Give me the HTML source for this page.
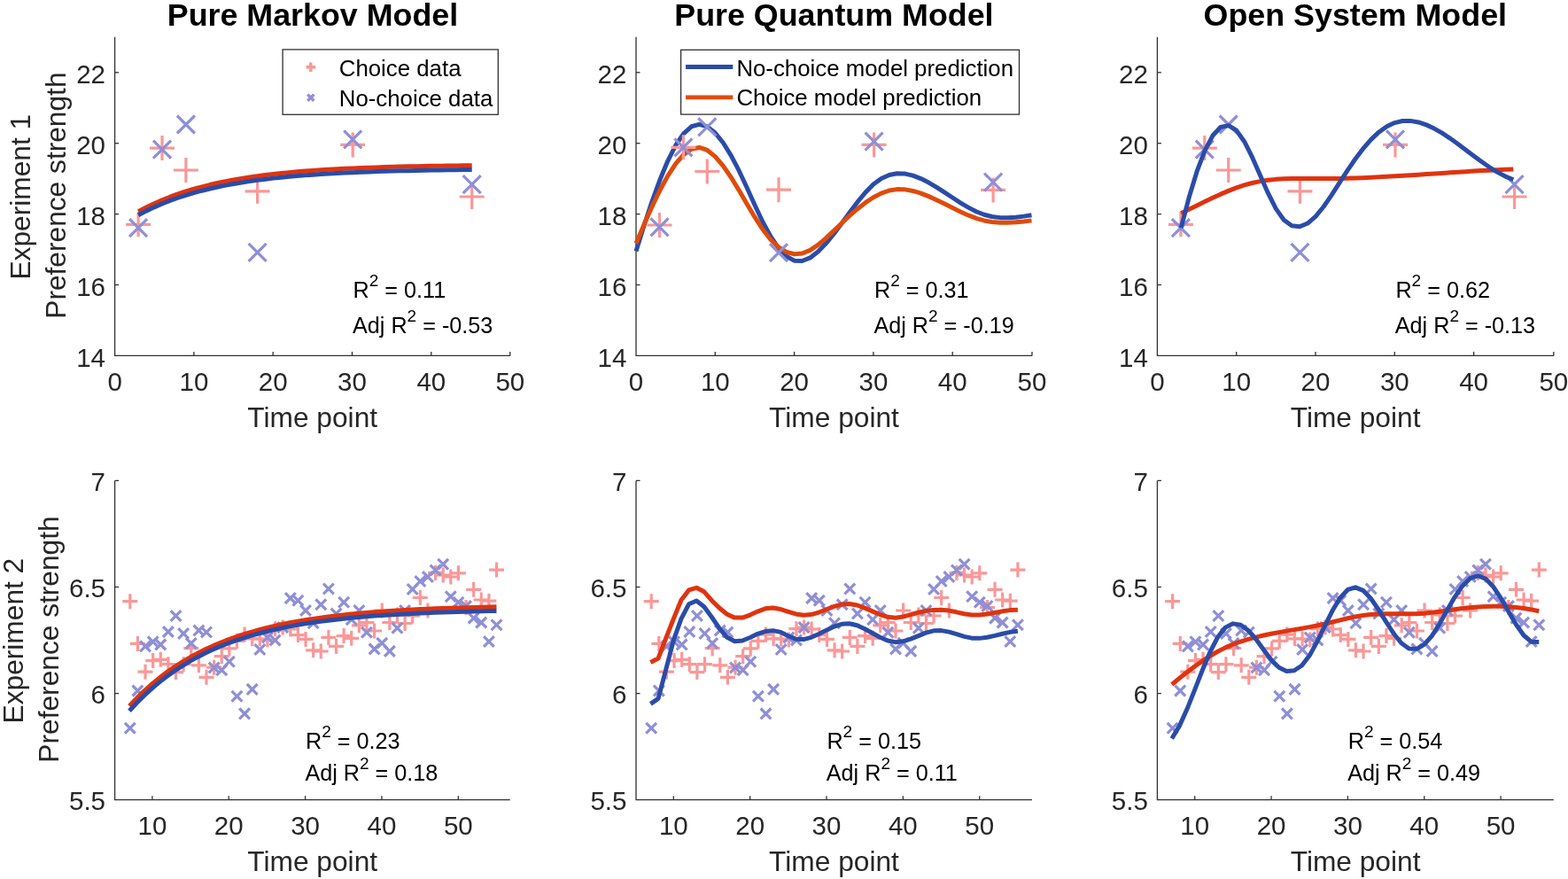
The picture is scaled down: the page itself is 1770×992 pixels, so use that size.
<!DOCTYPE html>
<html><head><meta charset="utf-8"><title>Model fits</title><style>html,body{margin:0;padding:0;background:#fff;}svg{display:block;}</style></head><body>
<svg width="1770" height="992" viewBox="0 0 1770 992" font-family='"Liberation Sans", Arial, Helvetica, sans-serif' fill="#000">
<rect width="1770" height="992" fill="#fff"/>
<text x="353.00" y="29.00" font-size="35.85" text-anchor="middle" font-weight="bold">Pure Markov Model</text>
<text x="941.40" y="29.00" font-size="35.85" text-anchor="middle" font-weight="bold">Pure Quantum Model</text>
<text x="1529.80" y="29.00" font-size="35.85" text-anchor="middle" font-weight="bold">Open System Model</text>
<text transform="translate(33.90 222.20) rotate(-90)" x="0" y="0" font-size="31.70" text-anchor="middle" fill="#262626">Experiment 1</text>
<text transform="translate(74.10 220.60) rotate(-90)" x="0" y="0" font-size="31.70" text-anchor="middle" fill="#262626">Preference strength</text>
<text transform="translate(26.20 723.10) rotate(-90)" x="0" y="0" font-size="31.70" text-anchor="middle" fill="#262626">Experiment 2</text>
<text transform="translate(66.20 721.50) rotate(-90)" x="0" y="0" font-size="31.70" text-anchor="middle" fill="#262626">Preference strength</text>
<path d="M129.60 41.85V401.40H575.80" stroke="#303030" stroke-width="1.3" fill="none"/>
<text x="119.00" y="414.00" font-size="29.50" text-anchor="end" fill="#262626">14</text>
<path d="M129.60 321.50h4.5" stroke="#303030" stroke-width="1.3"/>
<text x="119.00" y="334.10" font-size="29.50" text-anchor="end" fill="#262626">16</text>
<path d="M129.60 241.60h4.5" stroke="#303030" stroke-width="1.3"/>
<text x="119.00" y="254.20" font-size="29.50" text-anchor="end" fill="#262626">18</text>
<path d="M129.60 161.70h4.5" stroke="#303030" stroke-width="1.3"/>
<text x="119.00" y="174.30" font-size="29.50" text-anchor="end" fill="#262626">20</text>
<path d="M129.60 81.80h4.5" stroke="#303030" stroke-width="1.3"/>
<text x="119.00" y="94.40" font-size="29.50" text-anchor="end" fill="#262626">22</text>
<text x="129.60" y="441.30" font-size="29.50" text-anchor="middle" fill="#262626">0</text>
<path d="M218.90 401.40v-4.5" stroke="#303030" stroke-width="1.3"/>
<text x="218.90" y="441.30" font-size="29.50" text-anchor="middle" fill="#262626">10</text>
<path d="M308.20 401.40v-4.5" stroke="#303030" stroke-width="1.3"/>
<text x="308.20" y="441.30" font-size="29.50" text-anchor="middle" fill="#262626">20</text>
<path d="M397.50 401.40v-4.5" stroke="#303030" stroke-width="1.3"/>
<text x="397.50" y="441.30" font-size="29.50" text-anchor="middle" fill="#262626">30</text>
<path d="M486.80 401.40v-4.5" stroke="#303030" stroke-width="1.3"/>
<text x="486.80" y="441.30" font-size="29.50" text-anchor="middle" fill="#262626">40</text>
<path d="M575.80 401.40v-4.5" stroke="#303030" stroke-width="1.3"/>
<text x="575.80" y="441.30" font-size="29.50" text-anchor="middle" fill="#262626">50</text>
<text x="352.70" y="481.70" font-size="31.70" text-anchor="middle" fill="#262626">Time point</text>
<g fill="none" stroke-linecap="butt">
<path d="M142.10 253.30H170.10M156.10 239.30V267.30" stroke="#fa9898" stroke-width="3.20"/>
<path d="M169.00 167.10H197.00M183.00 153.10V181.10" stroke="#fa9898" stroke-width="3.20"/>
<path d="M195.90 192.00H223.90M209.90 178.00V206.00" stroke="#fa9898" stroke-width="3.20"/>
<path d="M276.61 215.80H304.61M290.61 201.80V229.80" stroke="#fa9898" stroke-width="3.20"/>
<path d="M384.21 163.40H412.21M398.21 149.40V177.40" stroke="#fa9898" stroke-width="3.20"/>
<path d="M518.72 222.00H546.72M532.72 208.00V236.00" stroke="#fa9898" stroke-width="3.20"/>
<path d="M146.10 247.10L166.10 267.10M146.10 267.10L166.10 247.10" stroke="#8f8fd6" stroke-width="3.20"/>
<path d="M173.00 158.60L193.00 178.60M173.00 178.60L193.00 158.60" stroke="#8f8fd6" stroke-width="3.20"/>
<path d="M199.90 130.50L219.90 150.50M199.90 150.50L219.90 130.50" stroke="#8f8fd6" stroke-width="3.20"/>
<path d="M280.61 274.90L300.61 294.90M280.61 294.90L300.61 274.90" stroke="#8f8fd6" stroke-width="3.20"/>
<path d="M388.21 147.40L408.21 167.40M388.21 167.40L408.21 147.40" stroke="#8f8fd6" stroke-width="3.20"/>
<path d="M522.72 198.10L542.72 218.10M522.72 218.10L542.72 198.10" stroke="#8f8fd6" stroke-width="3.20"/>
</g>
<path d="M156.10 238.80 L165.07 234.06 L174.03 229.73 L183.00 225.80 L191.97 222.21 L200.94 218.95 L209.90 215.97 L218.87 213.26 L227.84 210.80 L236.80 208.55 L245.77 206.51 L254.74 204.65 L263.70 202.95 L272.67 201.41 L281.64 200.00 L290.61 198.72 L299.57 197.55 L308.54 196.49 L317.51 195.53 L326.47 194.64 L335.44 193.84 L344.41 193.11 L353.38 192.45 L362.34 191.84 L371.31 191.29 L380.28 190.79 L389.24 190.33 L398.21 189.91 L407.18 189.54 L416.14 189.19 L425.11 188.88 L434.08 188.59 L443.05 188.33 L452.01 188.09 L460.98 187.87 L469.95 187.68 L478.91 187.50 L487.88 187.33 L496.85 187.19 L505.81 187.05 L514.78 186.93 L523.75 186.81 L532.72 186.71" stroke="#e0330f" stroke-width="5.00" fill="none" stroke-linejoin="round" stroke-linecap="butt"/>
<path d="M156.10 242.80 L165.07 238.12 L174.03 233.86 L183.00 229.99 L191.97 226.45 L200.94 223.24 L209.90 220.31 L218.87 217.64 L227.84 215.21 L236.80 213.00 L245.77 210.99 L254.74 209.16 L263.70 207.49 L272.67 205.96 L281.64 204.58 L290.61 203.32 L299.57 202.17 L308.54 201.12 L317.51 200.17 L326.47 199.30 L335.44 198.51 L344.41 197.79 L353.38 197.14 L362.34 196.54 L371.31 196.00 L380.28 195.51 L389.24 195.05 L398.21 194.64 L407.18 194.27 L416.14 193.93 L425.11 193.62 L434.08 193.34 L443.05 193.08 L452.01 192.85 L460.98 192.64 L469.95 192.44 L478.91 192.26 L487.88 192.10 L496.85 191.96 L505.81 191.82 L514.78 191.70 L523.75 191.59 L532.72 191.49" stroke="#2a4ca8" stroke-width="5.00" fill="none" stroke-linejoin="round" stroke-linecap="butt"/>
<path d="M718.00 41.85V401.40H1165.00" stroke="#303030" stroke-width="1.3" fill="none"/>
<text x="707.40" y="414.00" font-size="29.50" text-anchor="end" fill="#262626">14</text>
<path d="M718.00 321.50h4.5" stroke="#303030" stroke-width="1.3"/>
<text x="707.40" y="334.10" font-size="29.50" text-anchor="end" fill="#262626">16</text>
<path d="M718.00 241.60h4.5" stroke="#303030" stroke-width="1.3"/>
<text x="707.40" y="254.20" font-size="29.50" text-anchor="end" fill="#262626">18</text>
<path d="M718.00 161.70h4.5" stroke="#303030" stroke-width="1.3"/>
<text x="707.40" y="174.30" font-size="29.50" text-anchor="end" fill="#262626">20</text>
<path d="M718.00 81.80h4.5" stroke="#303030" stroke-width="1.3"/>
<text x="707.40" y="94.40" font-size="29.50" text-anchor="end" fill="#262626">22</text>
<text x="718.00" y="441.30" font-size="29.50" text-anchor="middle" fill="#262626">0</text>
<path d="M807.30 401.40v-4.5" stroke="#303030" stroke-width="1.3"/>
<text x="807.30" y="441.30" font-size="29.50" text-anchor="middle" fill="#262626">10</text>
<path d="M896.60 401.40v-4.5" stroke="#303030" stroke-width="1.3"/>
<text x="896.60" y="441.30" font-size="29.50" text-anchor="middle" fill="#262626">20</text>
<path d="M985.90 401.40v-4.5" stroke="#303030" stroke-width="1.3"/>
<text x="985.90" y="441.30" font-size="29.50" text-anchor="middle" fill="#262626">30</text>
<path d="M1075.20 401.40v-4.5" stroke="#303030" stroke-width="1.3"/>
<text x="1075.20" y="441.30" font-size="29.50" text-anchor="middle" fill="#262626">40</text>
<path d="M1165.00 401.40v-4.5" stroke="#303030" stroke-width="1.3"/>
<text x="1165.00" y="441.30" font-size="29.50" text-anchor="middle" fill="#262626">50</text>
<text x="941.50" y="481.70" font-size="31.70" text-anchor="middle" fill="#262626">Time point</text>
<path d="M718.00 283.40 L726.93 254.82 L735.86 227.89 L744.79 203.32 L753.72 181.81 L762.65 164.08 L771.58 150.83 L780.51 142.78 L789.44 140.29 L798.37 142.89 L807.30 150.00 L816.23 161.02 L825.16 175.36 L834.09 192.44 L843.02 211.53 L851.95 231.29 L860.88 250.20 L869.81 266.73 L878.74 279.91 L887.67 289.22 L896.60 294.16 L905.53 294.51 L914.46 290.89 L923.39 284.07 L932.32 274.83 L941.25 263.90 L950.18 251.98 L959.11 239.75 L968.04 227.91 L976.97 217.12 L985.90 208.09 L994.83 201.47 L1003.76 197.46 L1012.69 195.78 L1021.62 196.12 L1030.55 198.16 L1039.48 201.59 L1048.41 206.10 L1057.34 211.38 L1066.27 217.13 L1075.20 223.04 L1084.13 228.81 L1093.06 234.14 L1101.99 238.73 L1110.92 242.27 L1119.85 244.54 L1128.78 245.64 L1137.71 245.79 L1146.64 245.21 L1155.57 244.12 L1164.50 242.72" stroke="#2a4ca8" stroke-width="5.00" fill="none" stroke-linejoin="round" stroke-linecap="butt"/>
<path d="M718.00 274.77 L726.93 253.68 L735.86 233.55 L744.79 214.99 L753.72 198.58 L762.65 184.93 L771.58 174.63 L780.51 168.27 L789.44 166.45 L798.37 169.45 L807.30 176.60 L816.23 187.07 L825.16 200.01 L834.09 214.58 L843.02 229.90 L851.95 244.98 L860.88 258.75 L869.81 270.20 L878.74 278.76 L887.67 284.31 L896.60 286.77 L905.53 286.04 L914.46 282.38 L923.39 276.43 L932.32 268.88 L941.25 260.41 L950.18 251.77 L959.11 243.44 L968.04 235.66 L976.97 228.69 L985.90 222.75 L994.83 218.11 L1003.76 214.99 L1012.69 213.61 L1021.62 213.85 L1030.55 215.44 L1039.48 218.12 L1048.41 221.62 L1057.34 225.68 L1066.27 230.07 L1075.20 234.55 L1084.13 238.91 L1093.06 242.91 L1101.99 246.32 L1110.92 248.93 L1119.85 250.56 L1128.78 251.30 L1137.71 251.33 L1146.64 250.82 L1155.57 249.94 L1164.50 248.86" stroke="#df4b0a" stroke-width="5.00" fill="none" stroke-linejoin="round" stroke-linecap="butt"/>
<g fill="none" stroke-linecap="butt">
<path d="M730.50 254.00H758.50M744.50 240.00V268.00" stroke="#fa9898" stroke-width="3.20"/>
<path d="M757.40 166.30H785.40M771.40 152.30V180.30" stroke="#fa9898" stroke-width="3.20"/>
<path d="M784.30 193.50H812.30M798.30 179.50V207.50" stroke="#fa9898" stroke-width="3.20"/>
<path d="M865.01 214.20H893.01M879.01 200.20V228.20" stroke="#fa9898" stroke-width="3.20"/>
<path d="M972.61 163.40H1000.61M986.61 149.40V177.40" stroke="#fa9898" stroke-width="3.20"/>
<path d="M1107.12 214.40H1135.12M1121.12 200.40V228.40" stroke="#fa9898" stroke-width="3.20"/>
<path d="M734.50 246.30L754.50 266.30M734.50 266.30L754.50 246.30" stroke="#8f8fd6" stroke-width="3.20"/>
<path d="M761.40 156.30L781.40 176.30M761.40 176.30L781.40 156.30" stroke="#8f8fd6" stroke-width="3.20"/>
<path d="M788.30 133.30L808.30 153.30M788.30 153.30L808.30 133.30" stroke="#8f8fd6" stroke-width="3.20"/>
<path d="M869.01 275.20L889.01 295.20M869.01 295.20L889.01 275.20" stroke="#8f8fd6" stroke-width="3.20"/>
<path d="M976.61 149.70L996.61 169.70M976.61 169.70L996.61 149.70" stroke="#8f8fd6" stroke-width="3.20"/>
<path d="M1111.12 195.60L1131.12 215.60M1111.12 215.60L1131.12 195.60" stroke="#8f8fd6" stroke-width="3.20"/>
</g>
<path d="M1306.40 41.85V401.40H1753.80" stroke="#303030" stroke-width="1.3" fill="none"/>
<text x="1295.80" y="414.00" font-size="29.50" text-anchor="end" fill="#262626">14</text>
<path d="M1306.40 321.50h4.5" stroke="#303030" stroke-width="1.3"/>
<text x="1295.80" y="334.10" font-size="29.50" text-anchor="end" fill="#262626">16</text>
<path d="M1306.40 241.60h4.5" stroke="#303030" stroke-width="1.3"/>
<text x="1295.80" y="254.20" font-size="29.50" text-anchor="end" fill="#262626">18</text>
<path d="M1306.40 161.70h4.5" stroke="#303030" stroke-width="1.3"/>
<text x="1295.80" y="174.30" font-size="29.50" text-anchor="end" fill="#262626">20</text>
<path d="M1306.40 81.80h4.5" stroke="#303030" stroke-width="1.3"/>
<text x="1295.80" y="94.40" font-size="29.50" text-anchor="end" fill="#262626">22</text>
<text x="1306.40" y="441.30" font-size="29.50" text-anchor="middle" fill="#262626">0</text>
<path d="M1395.70 401.40v-4.5" stroke="#303030" stroke-width="1.3"/>
<text x="1395.70" y="441.30" font-size="29.50" text-anchor="middle" fill="#262626">10</text>
<path d="M1485.00 401.40v-4.5" stroke="#303030" stroke-width="1.3"/>
<text x="1485.00" y="441.30" font-size="29.50" text-anchor="middle" fill="#262626">20</text>
<path d="M1574.30 401.40v-4.5" stroke="#303030" stroke-width="1.3"/>
<text x="1574.30" y="441.30" font-size="29.50" text-anchor="middle" fill="#262626">30</text>
<path d="M1663.60 401.40v-4.5" stroke="#303030" stroke-width="1.3"/>
<text x="1663.60" y="441.30" font-size="29.50" text-anchor="middle" fill="#262626">40</text>
<path d="M1753.80 401.40v-4.5" stroke="#303030" stroke-width="1.3"/>
<text x="1753.80" y="441.30" font-size="29.50" text-anchor="middle" fill="#262626">50</text>
<text x="1530.10" y="481.70" font-size="31.70" text-anchor="middle" fill="#262626">Time point</text>
<g fill="none" stroke-linecap="butt">
<path d="M1318.90 253.30H1346.90M1332.90 239.30V267.30" stroke="#fa9898" stroke-width="3.20"/>
<path d="M1345.80 167.10H1373.80M1359.80 153.10V181.10" stroke="#fa9898" stroke-width="3.20"/>
<path d="M1372.70 192.00H1400.70M1386.70 178.00V206.00" stroke="#fa9898" stroke-width="3.20"/>
<path d="M1453.41 215.80H1481.41M1467.41 201.80V229.80" stroke="#fa9898" stroke-width="3.20"/>
<path d="M1561.01 163.40H1589.01M1575.01 149.40V177.40" stroke="#fa9898" stroke-width="3.20"/>
<path d="M1695.52 222.00H1723.52M1709.52 208.00V236.00" stroke="#fa9898" stroke-width="3.20"/>
<path d="M1322.90 247.10L1342.90 267.10M1322.90 267.10L1342.90 247.10" stroke="#8f8fd6" stroke-width="3.20"/>
<path d="M1349.80 158.60L1369.80 178.60M1349.80 178.60L1369.80 158.60" stroke="#8f8fd6" stroke-width="3.20"/>
<path d="M1376.70 130.50L1396.70 150.50M1376.70 150.50L1396.70 130.50" stroke="#8f8fd6" stroke-width="3.20"/>
<path d="M1457.41 274.90L1477.41 294.90M1457.41 294.90L1477.41 274.90" stroke="#8f8fd6" stroke-width="3.20"/>
<path d="M1565.01 147.40L1585.01 167.40M1565.01 167.40L1585.01 147.40" stroke="#8f8fd6" stroke-width="3.20"/>
<path d="M1699.52 198.10L1719.52 218.10M1699.52 218.10L1719.52 198.10" stroke="#8f8fd6" stroke-width="3.20"/>
</g>
<path d="M1333.19 240.64 L1342.12 236.30 L1351.05 231.90 L1359.98 227.51 L1368.91 223.23 L1377.84 219.15 L1386.77 215.35 L1395.70 211.91 L1404.63 208.93 L1413.56 206.50 L1422.49 204.64 L1431.42 203.29 L1440.35 202.37 L1449.28 201.81 L1458.21 201.51 L1467.14 201.42 L1476.07 201.45 L1485.00 201.53 L1493.93 201.57 L1502.86 201.53 L1511.79 201.41 L1520.72 201.22 L1529.65 200.96 L1538.58 200.64 L1547.51 200.27 L1556.44 199.84 L1565.37 199.37 L1574.30 198.86 L1583.23 198.33 L1592.16 197.77 L1601.09 197.18 L1610.02 196.59 L1618.95 195.99 L1627.88 195.39 L1636.81 194.80 L1645.74 194.22 L1654.67 193.65 L1663.60 193.11 L1672.53 192.61 L1681.46 192.13 L1690.39 191.70 L1699.32 191.32 L1708.25 191.00" stroke="#e0330f" stroke-width="5.00" fill="none" stroke-linejoin="round" stroke-linecap="butt"/>
<path d="M1333.19 257.25 L1342.12 223.02 L1351.05 193.66 L1359.98 170.05 L1368.91 153.08 L1377.84 143.53 L1386.77 141.58 L1395.70 147.11 L1404.63 159.73 L1413.56 177.45 L1422.49 197.72 L1431.42 217.97 L1440.35 235.65 L1449.28 248.24 L1458.21 254.73 L1467.14 255.77 L1476.07 252.04 L1485.00 244.30 L1493.93 233.48 L1502.86 220.60 L1511.79 206.70 L1520.72 192.80 L1529.65 179.75 L1538.58 167.95 L1547.51 157.65 L1556.44 149.16 L1565.37 142.73 L1574.30 138.57 L1583.23 136.54 L1592.16 136.40 L1601.09 137.92 L1610.02 140.88 L1618.95 145.05 L1627.88 150.20 L1636.81 156.09 L1645.74 162.50 L1654.67 169.21 L1663.60 175.97 L1672.53 182.57 L1681.46 188.77 L1690.39 194.35 L1699.32 199.07 L1708.25 202.70" stroke="#2a4ca8" stroke-width="5.00" fill="none" stroke-linejoin="round" stroke-linecap="butt"/>
<path d="M129.60 542.40V902.70H575.80" stroke="#303030" stroke-width="1.3" fill="none"/>
<text x="119.00" y="914.10" font-size="29.50" text-anchor="end" fill="#262626">5.5</text>
<path d="M129.60 782.60h4.5" stroke="#303030" stroke-width="1.3"/>
<text x="119.00" y="794.00" font-size="29.50" text-anchor="end" fill="#262626">6</text>
<path d="M129.60 662.50h4.5" stroke="#303030" stroke-width="1.3"/>
<text x="119.00" y="673.90" font-size="29.50" text-anchor="end" fill="#262626">6.5</text>
<path d="M129.60 542.40h4.5" stroke="#303030" stroke-width="1.3"/>
<text x="119.00" y="553.80" font-size="29.50" text-anchor="end" fill="#262626">7</text>
<path d="M171.90 902.70v-4.5" stroke="#303030" stroke-width="1.3"/>
<text x="171.90" y="942.30" font-size="29.50" text-anchor="middle" fill="#262626">10</text>
<path d="M258.25 902.70v-4.5" stroke="#303030" stroke-width="1.3"/>
<text x="258.25" y="942.30" font-size="29.50" text-anchor="middle" fill="#262626">20</text>
<path d="M344.60 902.70v-4.5" stroke="#303030" stroke-width="1.3"/>
<text x="344.60" y="942.30" font-size="29.50" text-anchor="middle" fill="#262626">30</text>
<path d="M430.95 902.70v-4.5" stroke="#303030" stroke-width="1.3"/>
<text x="430.95" y="942.30" font-size="29.50" text-anchor="middle" fill="#262626">40</text>
<path d="M517.30 902.70v-4.5" stroke="#303030" stroke-width="1.3"/>
<text x="517.30" y="942.30" font-size="29.50" text-anchor="middle" fill="#262626">50</text>
<text x="352.70" y="982.70" font-size="31.70" text-anchor="middle" fill="#262626">Time point</text>
<g fill="none" stroke-linecap="butt">
<path d="M138.30 678.70H155.30M146.80 670.20V687.20" stroke="#fa9898" stroke-width="3.20"/>
<path d="M146.92 726.40H163.92M155.42 717.90V734.90" stroke="#fa9898" stroke-width="3.20"/>
<path d="M155.54 758.20H172.54M164.04 749.70V766.70" stroke="#fa9898" stroke-width="3.20"/>
<path d="M164.16 745.60H181.16M172.66 737.10V754.10" stroke="#fa9898" stroke-width="3.20"/>
<path d="M172.78 744.30H189.78M181.28 735.80V752.80" stroke="#fa9898" stroke-width="3.20"/>
<path d="M181.40 749.70H198.40M189.90 741.20V758.20" stroke="#fa9898" stroke-width="3.20"/>
<path d="M190.01 758.60H207.01M198.51 750.10V767.10" stroke="#fa9898" stroke-width="3.20"/>
<path d="M198.63 749.70H215.63M207.13 741.20V758.20" stroke="#fa9898" stroke-width="3.20"/>
<path d="M207.25 731.70H224.25M215.75 723.20V740.20" stroke="#fa9898" stroke-width="3.20"/>
<path d="M215.87 750.80H232.87M224.37 742.30V759.30" stroke="#fa9898" stroke-width="3.20"/>
<path d="M224.49 764.30H241.49M232.99 755.80V772.80" stroke="#fa9898" stroke-width="3.20"/>
<path d="M233.11 753.20H250.11M241.61 744.70V761.70" stroke="#fa9898" stroke-width="3.20"/>
<path d="M241.73 740.70H258.73M250.23 732.20V749.20" stroke="#fa9898" stroke-width="3.20"/>
<path d="M250.35 731.90H267.35M258.85 723.40V740.40" stroke="#fa9898" stroke-width="3.20"/>
<path d="M258.97 723.40H275.97M267.47 714.90V731.90" stroke="#fa9898" stroke-width="3.20"/>
<path d="M267.59 716.10H284.59M276.09 707.60V724.60" stroke="#fa9898" stroke-width="3.20"/>
<path d="M276.20 720.80H293.20M284.70 712.30V729.30" stroke="#fa9898" stroke-width="3.20"/>
<path d="M284.82 721.00H301.82M293.32 712.50V729.50" stroke="#fa9898" stroke-width="3.20"/>
<path d="M293.44 722.00H310.44M301.94 713.50V730.50" stroke="#fa9898" stroke-width="3.20"/>
<path d="M302.06 709.70H319.06M310.56 701.20V718.20" stroke="#fa9898" stroke-width="3.20"/>
<path d="M310.68 708.00H327.68M319.18 699.50V716.50" stroke="#fa9898" stroke-width="3.20"/>
<path d="M319.30 710.00H336.30M327.80 701.50V718.50" stroke="#fa9898" stroke-width="3.20"/>
<path d="M327.92 716.60H344.92M336.42 708.10V725.10" stroke="#fa9898" stroke-width="3.20"/>
<path d="M336.54 721.40H353.54M345.04 712.90V729.90" stroke="#fa9898" stroke-width="3.20"/>
<path d="M345.16 733.80H362.16M353.66 725.30V742.30" stroke="#fa9898" stroke-width="3.20"/>
<path d="M353.77 735.00H370.77M362.27 726.50V743.50" stroke="#fa9898" stroke-width="3.20"/>
<path d="M362.39 719.40H379.39M370.89 710.90V727.90" stroke="#fa9898" stroke-width="3.20"/>
<path d="M371.01 729.40H388.01M379.51 720.90V737.90" stroke="#fa9898" stroke-width="3.20"/>
<path d="M379.63 717.60H396.63M388.13 709.10V726.10" stroke="#fa9898" stroke-width="3.20"/>
<path d="M388.25 720.30H405.25M396.75 711.80V728.80" stroke="#fa9898" stroke-width="3.20"/>
<path d="M396.87 705.80H413.87M405.37 697.30V714.30" stroke="#fa9898" stroke-width="3.20"/>
<path d="M405.49 702.60H422.49M413.99 694.10V711.10" stroke="#fa9898" stroke-width="3.20"/>
<path d="M414.11 712.00H431.11M422.61 703.50V720.50" stroke="#fa9898" stroke-width="3.20"/>
<path d="M422.73 689.00H439.73M431.23 680.50V697.50" stroke="#fa9898" stroke-width="3.20"/>
<path d="M431.35 702.50H448.35M439.85 694.00V711.00" stroke="#fa9898" stroke-width="3.20"/>
<path d="M439.96 694.00H456.96M448.46 685.50V702.50" stroke="#fa9898" stroke-width="3.20"/>
<path d="M448.58 703.50H465.58M457.08 695.00V712.00" stroke="#fa9898" stroke-width="3.20"/>
<path d="M457.20 695.00H474.20M465.70 686.50V703.50" stroke="#fa9898" stroke-width="3.20"/>
<path d="M465.82 674.50H482.82M474.32 666.00V683.00" stroke="#fa9898" stroke-width="3.20"/>
<path d="M474.44 689.00H491.44M482.94 680.50V697.50" stroke="#fa9898" stroke-width="3.20"/>
<path d="M483.06 646.40H500.06M491.56 637.90V654.90" stroke="#fa9898" stroke-width="3.20"/>
<path d="M491.68 649.00H508.68M500.18 640.50V657.50" stroke="#fa9898" stroke-width="3.20"/>
<path d="M500.30 651.00H517.30M508.80 642.50V659.50" stroke="#fa9898" stroke-width="3.20"/>
<path d="M508.92 646.80H525.92M517.42 638.30V655.30" stroke="#fa9898" stroke-width="3.20"/>
<path d="M517.54 685.50H534.54M526.04 677.00V694.00" stroke="#fa9898" stroke-width="3.20"/>
<path d="M526.15 665.30H543.15M534.65 656.80V673.80" stroke="#fa9898" stroke-width="3.20"/>
<path d="M534.77 677.00H551.77M543.27 668.50V685.50" stroke="#fa9898" stroke-width="3.20"/>
<path d="M543.39 678.20H560.39M551.89 669.70V686.70" stroke="#fa9898" stroke-width="3.20"/>
<path d="M552.01 643.10H569.01M560.51 634.60V651.60" stroke="#fa9898" stroke-width="3.20"/>
<path d="M140.90 815.80L152.70 827.60M140.90 827.60L152.70 815.80" stroke="#8f8fd6" stroke-width="3.20"/>
<path d="M149.52 773.70L161.32 785.50M149.52 785.50L161.32 773.70" stroke="#8f8fd6" stroke-width="3.20"/>
<path d="M158.14 723.50L169.94 735.30M158.14 735.30L169.94 723.50" stroke="#8f8fd6" stroke-width="3.20"/>
<path d="M166.76 718.40L178.56 730.20M166.76 730.20L178.56 718.40" stroke="#8f8fd6" stroke-width="3.20"/>
<path d="M175.38 721.50L187.18 733.30M175.38 733.30L187.18 721.50" stroke="#8f8fd6" stroke-width="3.20"/>
<path d="M184.00 707.10L195.80 718.90M184.00 718.90L195.80 707.10" stroke="#8f8fd6" stroke-width="3.20"/>
<path d="M192.61 689.10L204.41 700.90M192.61 700.90L204.41 689.10" stroke="#8f8fd6" stroke-width="3.20"/>
<path d="M201.23 709.10L213.03 720.90M201.23 720.90L213.03 709.10" stroke="#8f8fd6" stroke-width="3.20"/>
<path d="M209.85 720.10L221.65 731.90M209.85 731.90L221.65 720.10" stroke="#8f8fd6" stroke-width="3.20"/>
<path d="M218.47 705.60L230.27 717.40M218.47 717.40L230.27 705.60" stroke="#8f8fd6" stroke-width="3.20"/>
<path d="M227.09 707.60L238.89 719.40M227.09 719.40L238.89 707.60" stroke="#8f8fd6" stroke-width="3.20"/>
<path d="M235.71 747.60L247.51 759.40M235.71 759.40L247.51 747.60" stroke="#8f8fd6" stroke-width="3.20"/>
<path d="M244.33 750.40L256.13 762.20M244.33 762.20L256.13 750.40" stroke="#8f8fd6" stroke-width="3.20"/>
<path d="M252.95 740.80L264.75 752.60M252.95 752.60L264.75 740.80" stroke="#8f8fd6" stroke-width="3.20"/>
<path d="M261.57 779.80L273.37 791.60M261.57 791.60L273.37 779.80" stroke="#8f8fd6" stroke-width="3.20"/>
<path d="M270.19 799.50L281.99 811.30M270.19 811.30L281.99 799.50" stroke="#8f8fd6" stroke-width="3.20"/>
<path d="M278.80 772.00L290.60 783.80M278.80 783.80L290.60 772.00" stroke="#8f8fd6" stroke-width="3.20"/>
<path d="M287.42 727.10L299.22 738.90M287.42 738.90L299.22 727.10" stroke="#8f8fd6" stroke-width="3.20"/>
<path d="M296.04 713.60L307.84 725.40M296.04 725.40L307.84 713.60" stroke="#8f8fd6" stroke-width="3.20"/>
<path d="M304.66 716.60L316.46 728.40M304.66 728.40L316.46 716.60" stroke="#8f8fd6" stroke-width="3.20"/>
<path d="M313.28 702.20L325.08 714.00M313.28 714.00L325.08 702.20" stroke="#8f8fd6" stroke-width="3.20"/>
<path d="M321.90 669.20L333.70 681.00M321.90 681.00L333.70 669.20" stroke="#8f8fd6" stroke-width="3.20"/>
<path d="M330.52 671.80L342.32 683.60M330.52 683.60L342.32 671.80" stroke="#8f8fd6" stroke-width="3.20"/>
<path d="M339.14 683.10L350.94 694.90M339.14 694.90L350.94 683.10" stroke="#8f8fd6" stroke-width="3.20"/>
<path d="M347.76 697.40L359.56 709.20M347.76 709.20L359.56 697.40" stroke="#8f8fd6" stroke-width="3.20"/>
<path d="M356.38 676.30L368.17 688.10M356.38 688.10L368.17 676.30" stroke="#8f8fd6" stroke-width="3.20"/>
<path d="M364.99 658.60L376.79 670.40M364.99 670.40L376.79 658.60" stroke="#8f8fd6" stroke-width="3.20"/>
<path d="M373.61 686.60L385.41 698.40M373.61 698.40L385.41 686.60" stroke="#8f8fd6" stroke-width="3.20"/>
<path d="M382.23 673.90L394.03 685.70M382.23 685.70L394.03 673.90" stroke="#8f8fd6" stroke-width="3.20"/>
<path d="M390.85 693.40L402.65 705.20M390.85 705.20L402.65 693.40" stroke="#8f8fd6" stroke-width="3.20"/>
<path d="M399.47 683.10L411.27 694.90M399.47 694.90L411.27 683.10" stroke="#8f8fd6" stroke-width="3.20"/>
<path d="M408.09 707.90L419.89 719.70M408.09 719.70L419.89 707.90" stroke="#8f8fd6" stroke-width="3.20"/>
<path d="M416.71 726.50L428.51 738.30M416.71 738.30L428.51 726.50" stroke="#8f8fd6" stroke-width="3.20"/>
<path d="M425.33 719.90L437.13 731.70M425.33 731.70L437.13 719.90" stroke="#8f8fd6" stroke-width="3.20"/>
<path d="M433.95 729.00L445.75 740.80M433.95 740.80L445.75 729.00" stroke="#8f8fd6" stroke-width="3.20"/>
<path d="M442.56 702.90L454.36 714.70M442.56 714.70L454.36 702.90" stroke="#8f8fd6" stroke-width="3.20"/>
<path d="M451.18 683.10L462.98 694.90M451.18 694.90L462.98 683.10" stroke="#8f8fd6" stroke-width="3.20"/>
<path d="M459.80 659.10L471.60 670.90M459.80 670.90L471.60 659.10" stroke="#8f8fd6" stroke-width="3.20"/>
<path d="M468.42 650.10L480.22 661.90M468.42 661.90L480.22 650.10" stroke="#8f8fd6" stroke-width="3.20"/>
<path d="M477.04 645.10L488.84 656.90M477.04 656.90L488.84 645.10" stroke="#8f8fd6" stroke-width="3.20"/>
<path d="M485.66 637.60L497.46 649.40M485.66 649.40L497.46 637.60" stroke="#8f8fd6" stroke-width="3.20"/>
<path d="M494.28 630.90L506.08 642.70M494.28 642.70L506.08 630.90" stroke="#8f8fd6" stroke-width="3.20"/>
<path d="M502.90 667.30L514.70 679.10M502.90 679.10L514.70 667.30" stroke="#8f8fd6" stroke-width="3.20"/>
<path d="M511.52 673.80L523.32 685.60M511.52 685.60L523.32 673.80" stroke="#8f8fd6" stroke-width="3.20"/>
<path d="M520.14 678.10L531.94 689.90M520.14 689.90L531.94 678.10" stroke="#8f8fd6" stroke-width="3.20"/>
<path d="M528.75 691.70L540.55 703.50M528.75 703.50L540.55 691.70" stroke="#8f8fd6" stroke-width="3.20"/>
<path d="M537.37 696.70L549.17 708.50M537.37 708.50L549.17 696.70" stroke="#8f8fd6" stroke-width="3.20"/>
<path d="M545.99 718.10L557.79 729.90M545.99 729.90L557.79 718.10" stroke="#8f8fd6" stroke-width="3.20"/>
<path d="M554.61 699.30L566.41 711.10M554.61 711.10L566.41 699.30" stroke="#8f8fd6" stroke-width="3.20"/>
</g>
<path d="M146.00 796.65 L154.63 787.63 L163.27 779.31 L171.90 771.66 L180.53 764.61 L189.17 758.12 L197.81 752.15 L206.44 746.64 L215.07 741.57 L223.71 736.91 L232.34 732.61 L240.98 728.65 L249.62 725.01 L258.25 721.65 L266.88 718.57 L275.52 715.72 L284.15 713.10 L292.79 710.69 L301.43 708.47 L310.06 706.42 L318.69 704.54 L327.33 702.80 L335.97 701.21 L344.60 699.73 L353.24 698.38 L361.87 697.13 L370.50 695.99 L379.14 694.93 L387.77 693.95 L396.41 693.06 L405.04 692.23 L413.68 691.47 L422.31 690.77 L430.95 690.13 L439.59 689.53 L448.22 688.99 L456.86 688.48 L465.49 688.02 L474.12 687.59 L482.76 687.20 L491.39 686.84 L500.03 686.50 L508.66 686.20 L517.30 685.91 L525.93 685.65 L534.57 685.41 L543.21 685.19 L551.84 684.99 L560.48 684.80" stroke="#e0330f" stroke-width="5.00" fill="none" stroke-linejoin="round" stroke-linecap="butt"/>
<path d="M146.00 802.32 L154.63 793.02 L163.27 784.47 L171.90 776.61 L180.53 769.38 L189.17 762.74 L197.81 756.64 L206.44 751.04 L215.07 745.88 L223.71 741.15 L232.34 736.79 L240.98 732.79 L249.62 729.12 L258.25 725.74 L266.88 722.63 L275.52 719.78 L284.15 717.16 L292.79 714.75 L301.43 712.53 L310.06 710.50 L318.69 708.63 L327.33 706.91 L335.97 705.33 L344.60 703.88 L353.24 702.54 L361.87 701.32 L370.50 700.19 L379.14 699.15 L387.77 698.20 L396.41 697.33 L405.04 696.52 L413.68 695.78 L422.31 695.10 L430.95 694.48 L439.59 693.91 L448.22 693.38 L456.86 692.89 L465.49 692.45 L474.12 692.04 L482.76 691.66 L491.39 691.32 L500.03 691.00 L508.66 690.71 L517.30 690.44 L525.93 690.19 L534.57 689.97 L543.21 689.76 L551.84 689.57 L560.48 689.39" stroke="#2a4ca8" stroke-width="5.00" fill="none" stroke-linejoin="round" stroke-linecap="butt"/>
<path d="M718.00 542.40V902.70H1165.00" stroke="#303030" stroke-width="1.3" fill="none"/>
<text x="707.40" y="914.10" font-size="29.50" text-anchor="end" fill="#262626">5.5</text>
<path d="M718.00 782.60h4.5" stroke="#303030" stroke-width="1.3"/>
<text x="707.40" y="794.00" font-size="29.50" text-anchor="end" fill="#262626">6</text>
<path d="M718.00 662.50h4.5" stroke="#303030" stroke-width="1.3"/>
<text x="707.40" y="673.90" font-size="29.50" text-anchor="end" fill="#262626">6.5</text>
<path d="M718.00 542.40h4.5" stroke="#303030" stroke-width="1.3"/>
<text x="707.40" y="553.80" font-size="29.50" text-anchor="end" fill="#262626">7</text>
<path d="M760.30 902.70v-4.5" stroke="#303030" stroke-width="1.3"/>
<text x="760.30" y="942.30" font-size="29.50" text-anchor="middle" fill="#262626">10</text>
<path d="M846.65 902.70v-4.5" stroke="#303030" stroke-width="1.3"/>
<text x="846.65" y="942.30" font-size="29.50" text-anchor="middle" fill="#262626">20</text>
<path d="M933.00 902.70v-4.5" stroke="#303030" stroke-width="1.3"/>
<text x="933.00" y="942.30" font-size="29.50" text-anchor="middle" fill="#262626">30</text>
<path d="M1019.35 902.70v-4.5" stroke="#303030" stroke-width="1.3"/>
<text x="1019.35" y="942.30" font-size="29.50" text-anchor="middle" fill="#262626">40</text>
<path d="M1105.70 902.70v-4.5" stroke="#303030" stroke-width="1.3"/>
<text x="1105.70" y="942.30" font-size="29.50" text-anchor="middle" fill="#262626">50</text>
<text x="941.50" y="982.70" font-size="31.70" text-anchor="middle" fill="#262626">Time point</text>
<g fill="none" stroke-linecap="butt">
<path d="M726.70 678.70H743.70M735.20 670.20V687.20" stroke="#fa9898" stroke-width="3.20"/>
<path d="M735.32 726.40H752.32M743.82 717.90V734.90" stroke="#fa9898" stroke-width="3.20"/>
<path d="M743.94 758.20H760.94M752.44 749.70V766.70" stroke="#fa9898" stroke-width="3.20"/>
<path d="M752.56 745.60H769.56M761.06 737.10V754.10" stroke="#fa9898" stroke-width="3.20"/>
<path d="M761.18 744.30H778.18M769.68 735.80V752.80" stroke="#fa9898" stroke-width="3.20"/>
<path d="M769.80 749.70H786.80M778.30 741.20V758.20" stroke="#fa9898" stroke-width="3.20"/>
<path d="M778.41 758.60H795.41M786.91 750.10V767.10" stroke="#fa9898" stroke-width="3.20"/>
<path d="M787.03 749.70H804.03M795.53 741.20V758.20" stroke="#fa9898" stroke-width="3.20"/>
<path d="M795.65 731.70H812.65M804.15 723.20V740.20" stroke="#fa9898" stroke-width="3.20"/>
<path d="M804.27 750.80H821.27M812.77 742.30V759.30" stroke="#fa9898" stroke-width="3.20"/>
<path d="M812.89 764.30H829.89M821.39 755.80V772.80" stroke="#fa9898" stroke-width="3.20"/>
<path d="M821.51 753.20H838.51M830.01 744.70V761.70" stroke="#fa9898" stroke-width="3.20"/>
<path d="M830.13 740.70H847.13M838.63 732.20V749.20" stroke="#fa9898" stroke-width="3.20"/>
<path d="M838.75 731.90H855.75M847.25 723.40V740.40" stroke="#fa9898" stroke-width="3.20"/>
<path d="M847.37 723.40H864.37M855.87 714.90V731.90" stroke="#fa9898" stroke-width="3.20"/>
<path d="M855.99 716.10H872.99M864.49 707.60V724.60" stroke="#fa9898" stroke-width="3.20"/>
<path d="M864.60 720.80H881.60M873.10 712.30V729.30" stroke="#fa9898" stroke-width="3.20"/>
<path d="M873.22 721.00H890.22M881.72 712.50V729.50" stroke="#fa9898" stroke-width="3.20"/>
<path d="M881.84 722.00H898.84M890.34 713.50V730.50" stroke="#fa9898" stroke-width="3.20"/>
<path d="M890.46 709.70H907.46M898.96 701.20V718.20" stroke="#fa9898" stroke-width="3.20"/>
<path d="M899.08 708.00H916.08M907.58 699.50V716.50" stroke="#fa9898" stroke-width="3.20"/>
<path d="M907.70 710.00H924.70M916.20 701.50V718.50" stroke="#fa9898" stroke-width="3.20"/>
<path d="M916.32 716.60H933.32M924.82 708.10V725.10" stroke="#fa9898" stroke-width="3.20"/>
<path d="M924.94 721.40H941.94M933.44 712.90V729.90" stroke="#fa9898" stroke-width="3.20"/>
<path d="M933.56 733.80H950.56M942.06 725.30V742.30" stroke="#fa9898" stroke-width="3.20"/>
<path d="M942.18 735.00H959.18M950.68 726.50V743.50" stroke="#fa9898" stroke-width="3.20"/>
<path d="M950.79 719.40H967.79M959.29 710.90V727.90" stroke="#fa9898" stroke-width="3.20"/>
<path d="M959.41 729.40H976.41M967.91 720.90V737.90" stroke="#fa9898" stroke-width="3.20"/>
<path d="M968.03 717.60H985.03M976.53 709.10V726.10" stroke="#fa9898" stroke-width="3.20"/>
<path d="M976.65 720.30H993.65M985.15 711.80V728.80" stroke="#fa9898" stroke-width="3.20"/>
<path d="M985.27 705.80H1002.27M993.77 697.30V714.30" stroke="#fa9898" stroke-width="3.20"/>
<path d="M993.89 702.60H1010.89M1002.39 694.10V711.10" stroke="#fa9898" stroke-width="3.20"/>
<path d="M1002.51 712.00H1019.51M1011.01 703.50V720.50" stroke="#fa9898" stroke-width="3.20"/>
<path d="M1011.13 689.00H1028.13M1019.63 680.50V697.50" stroke="#fa9898" stroke-width="3.20"/>
<path d="M1019.75 702.50H1036.75M1028.25 694.00V711.00" stroke="#fa9898" stroke-width="3.20"/>
<path d="M1028.37 694.00H1045.37M1036.87 685.50V702.50" stroke="#fa9898" stroke-width="3.20"/>
<path d="M1036.98 703.50H1053.98M1045.48 695.00V712.00" stroke="#fa9898" stroke-width="3.20"/>
<path d="M1045.60 695.00H1062.60M1054.10 686.50V703.50" stroke="#fa9898" stroke-width="3.20"/>
<path d="M1054.22 674.50H1071.22M1062.72 666.00V683.00" stroke="#fa9898" stroke-width="3.20"/>
<path d="M1062.84 689.00H1079.84M1071.34 680.50V697.50" stroke="#fa9898" stroke-width="3.20"/>
<path d="M1071.46 646.40H1088.46M1079.96 637.90V654.90" stroke="#fa9898" stroke-width="3.20"/>
<path d="M1080.08 649.00H1097.08M1088.58 640.50V657.50" stroke="#fa9898" stroke-width="3.20"/>
<path d="M1088.70 651.00H1105.70M1097.20 642.50V659.50" stroke="#fa9898" stroke-width="3.20"/>
<path d="M1097.32 646.80H1114.32M1105.82 638.30V655.30" stroke="#fa9898" stroke-width="3.20"/>
<path d="M1105.94 685.50H1122.94M1114.44 677.00V694.00" stroke="#fa9898" stroke-width="3.20"/>
<path d="M1114.56 665.30H1131.56M1123.06 656.80V673.80" stroke="#fa9898" stroke-width="3.20"/>
<path d="M1123.17 677.00H1140.17M1131.67 668.50V685.50" stroke="#fa9898" stroke-width="3.20"/>
<path d="M1131.79 678.20H1148.79M1140.29 669.70V686.70" stroke="#fa9898" stroke-width="3.20"/>
<path d="M1140.41 643.10H1157.41M1148.91 634.60V651.60" stroke="#fa9898" stroke-width="3.20"/>
<path d="M729.30 815.80L741.10 827.60M729.30 827.60L741.10 815.80" stroke="#8f8fd6" stroke-width="3.20"/>
<path d="M737.92 773.70L749.72 785.50M737.92 785.50L749.72 773.70" stroke="#8f8fd6" stroke-width="3.20"/>
<path d="M746.54 723.50L758.34 735.30M746.54 735.30L758.34 723.50" stroke="#8f8fd6" stroke-width="3.20"/>
<path d="M755.16 718.40L766.96 730.20M755.16 730.20L766.96 718.40" stroke="#8f8fd6" stroke-width="3.20"/>
<path d="M763.78 721.50L775.58 733.30M763.78 733.30L775.58 721.50" stroke="#8f8fd6" stroke-width="3.20"/>
<path d="M772.40 707.10L784.20 718.90M772.40 718.90L784.20 707.10" stroke="#8f8fd6" stroke-width="3.20"/>
<path d="M781.01 689.10L792.81 700.90M781.01 700.90L792.81 689.10" stroke="#8f8fd6" stroke-width="3.20"/>
<path d="M789.63 709.10L801.43 720.90M789.63 720.90L801.43 709.10" stroke="#8f8fd6" stroke-width="3.20"/>
<path d="M798.25 720.10L810.05 731.90M798.25 731.90L810.05 720.10" stroke="#8f8fd6" stroke-width="3.20"/>
<path d="M806.87 705.60L818.67 717.40M806.87 717.40L818.67 705.60" stroke="#8f8fd6" stroke-width="3.20"/>
<path d="M815.49 707.60L827.29 719.40M815.49 719.40L827.29 707.60" stroke="#8f8fd6" stroke-width="3.20"/>
<path d="M824.11 747.60L835.91 759.40M824.11 759.40L835.91 747.60" stroke="#8f8fd6" stroke-width="3.20"/>
<path d="M832.73 750.40L844.53 762.20M832.73 762.20L844.53 750.40" stroke="#8f8fd6" stroke-width="3.20"/>
<path d="M841.35 740.80L853.15 752.60M841.35 752.60L853.15 740.80" stroke="#8f8fd6" stroke-width="3.20"/>
<path d="M849.97 779.80L861.77 791.60M849.97 791.60L861.77 779.80" stroke="#8f8fd6" stroke-width="3.20"/>
<path d="M858.59 799.50L870.38 811.30M858.59 811.30L870.38 799.50" stroke="#8f8fd6" stroke-width="3.20"/>
<path d="M867.20 772.00L879.00 783.80M867.20 783.80L879.00 772.00" stroke="#8f8fd6" stroke-width="3.20"/>
<path d="M875.82 727.10L887.62 738.90M875.82 738.90L887.62 727.10" stroke="#8f8fd6" stroke-width="3.20"/>
<path d="M884.44 713.60L896.24 725.40M884.44 725.40L896.24 713.60" stroke="#8f8fd6" stroke-width="3.20"/>
<path d="M893.06 716.60L904.86 728.40M893.06 728.40L904.86 716.60" stroke="#8f8fd6" stroke-width="3.20"/>
<path d="M901.68 702.20L913.48 714.00M901.68 714.00L913.48 702.20" stroke="#8f8fd6" stroke-width="3.20"/>
<path d="M910.30 669.20L922.10 681.00M910.30 681.00L922.10 669.20" stroke="#8f8fd6" stroke-width="3.20"/>
<path d="M918.92 671.80L930.72 683.60M918.92 683.60L930.72 671.80" stroke="#8f8fd6" stroke-width="3.20"/>
<path d="M927.54 683.10L939.34 694.90M927.54 694.90L939.34 683.10" stroke="#8f8fd6" stroke-width="3.20"/>
<path d="M936.16 697.40L947.96 709.20M936.16 709.20L947.96 697.40" stroke="#8f8fd6" stroke-width="3.20"/>
<path d="M944.78 676.30L956.58 688.10M944.78 688.10L956.58 676.30" stroke="#8f8fd6" stroke-width="3.20"/>
<path d="M953.39 658.60L965.19 670.40M953.39 670.40L965.19 658.60" stroke="#8f8fd6" stroke-width="3.20"/>
<path d="M962.01 686.60L973.81 698.40M962.01 698.40L973.81 686.60" stroke="#8f8fd6" stroke-width="3.20"/>
<path d="M970.63 673.90L982.43 685.70M970.63 685.70L982.43 673.90" stroke="#8f8fd6" stroke-width="3.20"/>
<path d="M979.25 693.40L991.05 705.20M979.25 705.20L991.05 693.40" stroke="#8f8fd6" stroke-width="3.20"/>
<path d="M987.87 683.10L999.67 694.90M987.87 694.90L999.67 683.10" stroke="#8f8fd6" stroke-width="3.20"/>
<path d="M996.49 707.90L1008.29 719.70M996.49 719.70L1008.29 707.90" stroke="#8f8fd6" stroke-width="3.20"/>
<path d="M1005.11 726.50L1016.91 738.30M1005.11 738.30L1016.91 726.50" stroke="#8f8fd6" stroke-width="3.20"/>
<path d="M1013.73 719.90L1025.53 731.70M1013.73 731.70L1025.53 719.90" stroke="#8f8fd6" stroke-width="3.20"/>
<path d="M1022.35 729.00L1034.15 740.80M1022.35 740.80L1034.15 729.00" stroke="#8f8fd6" stroke-width="3.20"/>
<path d="M1030.96 702.90L1042.77 714.70M1030.96 714.70L1042.77 702.90" stroke="#8f8fd6" stroke-width="3.20"/>
<path d="M1039.58 683.10L1051.38 694.90M1039.58 694.90L1051.38 683.10" stroke="#8f8fd6" stroke-width="3.20"/>
<path d="M1048.20 659.10L1060.00 670.90M1048.20 670.90L1060.00 659.10" stroke="#8f8fd6" stroke-width="3.20"/>
<path d="M1056.82 650.10L1068.62 661.90M1056.82 661.90L1068.62 650.10" stroke="#8f8fd6" stroke-width="3.20"/>
<path d="M1065.44 645.10L1077.24 656.90M1065.44 656.90L1077.24 645.10" stroke="#8f8fd6" stroke-width="3.20"/>
<path d="M1074.06 637.60L1085.86 649.40M1074.06 649.40L1085.86 637.60" stroke="#8f8fd6" stroke-width="3.20"/>
<path d="M1082.68 630.90L1094.48 642.70M1082.68 642.70L1094.48 630.90" stroke="#8f8fd6" stroke-width="3.20"/>
<path d="M1091.30 667.30L1103.10 679.10M1091.30 679.10L1103.10 667.30" stroke="#8f8fd6" stroke-width="3.20"/>
<path d="M1099.92 673.80L1111.72 685.60M1099.92 685.60L1111.72 673.80" stroke="#8f8fd6" stroke-width="3.20"/>
<path d="M1108.54 678.10L1120.34 689.90M1108.54 689.90L1120.34 678.10" stroke="#8f8fd6" stroke-width="3.20"/>
<path d="M1117.15 691.70L1128.96 703.50M1117.15 703.50L1128.96 691.70" stroke="#8f8fd6" stroke-width="3.20"/>
<path d="M1125.77 696.70L1137.57 708.50M1125.77 708.50L1137.57 696.70" stroke="#8f8fd6" stroke-width="3.20"/>
<path d="M1134.39 718.10L1146.19 729.90M1134.39 729.90L1146.19 718.10" stroke="#8f8fd6" stroke-width="3.20"/>
<path d="M1143.01 699.30L1154.81 711.10M1143.01 711.10L1154.81 699.30" stroke="#8f8fd6" stroke-width="3.20"/>
</g>
<path d="M734.39 747.50 L743.03 743.00 L751.66 720.30 L760.30 698.40 L768.93 677.20 L777.57 665.90 L786.20 663.30 L794.84 667.80 L803.47 677.71 L812.11 686.24 L820.75 693.19 L829.38 697.12 L838.01 697.01 L846.65 694.05 L855.28 690.05 L863.92 686.81 L872.55 686.00 L881.19 687.56 L889.82 690.28 L898.46 692.95 L907.09 694.33 L915.73 693.53 L924.37 691.04 L933.00 687.72 L941.63 684.44 L950.27 682.06 L958.90 681.45 L967.54 683.02 L976.17 686.11 L984.81 689.89 L993.44 693.56 L1002.08 696.28 L1010.71 697.24 L1019.35 696.07 L1027.98 693.69 L1036.62 691.21 L1045.25 689.39 L1053.89 688.38 L1062.52 688.26 L1071.16 689.10 L1079.80 690.83 L1088.43 692.78 L1097.07 694.05 L1105.70 694.05 L1114.34 693.03 L1122.97 691.48 L1131.61 689.84 L1140.24 688.60 L1148.88 688.22" stroke="#e0330f" stroke-width="5.00" fill="none" stroke-linejoin="round" stroke-linecap="butt"/>
<path d="M734.39 794.40 L743.03 788.40 L751.66 755.90 L760.30 722.60 L768.93 698.40 L777.57 681.80 L786.20 678.00 L794.84 684.80 L803.47 696.49 L812.11 709.16 L820.75 719.32 L829.38 723.67 L838.01 722.97 L846.65 719.45 L855.28 715.36 L863.92 712.51 L872.55 711.65 L881.19 713.38 L889.82 717.78 L898.46 721.31 L907.09 721.57 L915.73 719.33 L924.37 715.54 L933.00 711.14 L941.63 707.07 L950.27 704.28 L958.90 703.70 L967.54 705.77 L976.17 709.70 L984.81 714.52 L993.44 719.26 L1002.08 722.97 L1010.71 724.66 L1019.35 723.83 L1027.98 721.18 L1036.62 717.60 L1045.25 714.10 L1053.89 711.80 L1062.52 711.59 L1071.16 713.14 L1079.80 715.71 L1088.43 718.39 L1097.07 720.17 L1105.70 720.36 L1114.34 719.26 L1122.97 717.38 L1131.61 715.24 L1140.24 713.35 L1148.88 712.21" stroke="#2a4ca8" stroke-width="5.00" fill="none" stroke-linejoin="round" stroke-linecap="butt"/>
<path d="M1306.40 542.40V902.70H1753.80" stroke="#303030" stroke-width="1.3" fill="none"/>
<text x="1295.80" y="914.10" font-size="29.50" text-anchor="end" fill="#262626">5.5</text>
<path d="M1306.40 782.60h4.5" stroke="#303030" stroke-width="1.3"/>
<text x="1295.80" y="794.00" font-size="29.50" text-anchor="end" fill="#262626">6</text>
<path d="M1306.40 662.50h4.5" stroke="#303030" stroke-width="1.3"/>
<text x="1295.80" y="673.90" font-size="29.50" text-anchor="end" fill="#262626">6.5</text>
<path d="M1306.40 542.40h4.5" stroke="#303030" stroke-width="1.3"/>
<text x="1295.80" y="553.80" font-size="29.50" text-anchor="end" fill="#262626">7</text>
<path d="M1348.70 902.70v-4.5" stroke="#303030" stroke-width="1.3"/>
<text x="1348.70" y="942.30" font-size="29.50" text-anchor="middle" fill="#262626">10</text>
<path d="M1435.05 902.70v-4.5" stroke="#303030" stroke-width="1.3"/>
<text x="1435.05" y="942.30" font-size="29.50" text-anchor="middle" fill="#262626">20</text>
<path d="M1521.40 902.70v-4.5" stroke="#303030" stroke-width="1.3"/>
<text x="1521.40" y="942.30" font-size="29.50" text-anchor="middle" fill="#262626">30</text>
<path d="M1607.75 902.70v-4.5" stroke="#303030" stroke-width="1.3"/>
<text x="1607.75" y="942.30" font-size="29.50" text-anchor="middle" fill="#262626">40</text>
<path d="M1694.10 902.70v-4.5" stroke="#303030" stroke-width="1.3"/>
<text x="1694.10" y="942.30" font-size="29.50" text-anchor="middle" fill="#262626">50</text>
<text x="1530.10" y="982.70" font-size="31.70" text-anchor="middle" fill="#262626">Time point</text>
<g fill="none" stroke-linecap="butt">
<path d="M1315.10 678.70H1332.10M1323.60 670.20V687.20" stroke="#fa9898" stroke-width="3.20"/>
<path d="M1323.72 726.40H1340.72M1332.22 717.90V734.90" stroke="#fa9898" stroke-width="3.20"/>
<path d="M1332.34 758.20H1349.34M1340.84 749.70V766.70" stroke="#fa9898" stroke-width="3.20"/>
<path d="M1340.96 745.60H1357.96M1349.46 737.10V754.10" stroke="#fa9898" stroke-width="3.20"/>
<path d="M1349.58 744.30H1366.58M1358.08 735.80V752.80" stroke="#fa9898" stroke-width="3.20"/>
<path d="M1358.19 749.70H1375.19M1366.69 741.20V758.20" stroke="#fa9898" stroke-width="3.20"/>
<path d="M1366.81 758.60H1383.81M1375.31 750.10V767.10" stroke="#fa9898" stroke-width="3.20"/>
<path d="M1375.43 749.70H1392.43M1383.93 741.20V758.20" stroke="#fa9898" stroke-width="3.20"/>
<path d="M1384.05 731.70H1401.05M1392.55 723.20V740.20" stroke="#fa9898" stroke-width="3.20"/>
<path d="M1392.67 750.80H1409.67M1401.17 742.30V759.30" stroke="#fa9898" stroke-width="3.20"/>
<path d="M1401.29 764.30H1418.29M1409.79 755.80V772.80" stroke="#fa9898" stroke-width="3.20"/>
<path d="M1409.91 753.20H1426.91M1418.41 744.70V761.70" stroke="#fa9898" stroke-width="3.20"/>
<path d="M1418.53 740.70H1435.53M1427.03 732.20V749.20" stroke="#fa9898" stroke-width="3.20"/>
<path d="M1427.15 731.90H1444.15M1435.65 723.40V740.40" stroke="#fa9898" stroke-width="3.20"/>
<path d="M1435.77 723.40H1452.77M1444.27 714.90V731.90" stroke="#fa9898" stroke-width="3.20"/>
<path d="M1444.38 716.10H1461.38M1452.88 707.60V724.60" stroke="#fa9898" stroke-width="3.20"/>
<path d="M1453.00 720.80H1470.00M1461.50 712.30V729.30" stroke="#fa9898" stroke-width="3.20"/>
<path d="M1461.62 721.00H1478.62M1470.12 712.50V729.50" stroke="#fa9898" stroke-width="3.20"/>
<path d="M1470.24 722.00H1487.24M1478.74 713.50V730.50" stroke="#fa9898" stroke-width="3.20"/>
<path d="M1478.86 709.70H1495.86M1487.36 701.20V718.20" stroke="#fa9898" stroke-width="3.20"/>
<path d="M1487.48 708.00H1504.48M1495.98 699.50V716.50" stroke="#fa9898" stroke-width="3.20"/>
<path d="M1496.10 710.00H1513.10M1504.60 701.50V718.50" stroke="#fa9898" stroke-width="3.20"/>
<path d="M1504.72 716.60H1521.72M1513.22 708.10V725.10" stroke="#fa9898" stroke-width="3.20"/>
<path d="M1513.34 721.40H1530.34M1521.84 712.90V729.90" stroke="#fa9898" stroke-width="3.20"/>
<path d="M1521.96 733.80H1538.96M1530.46 725.30V742.30" stroke="#fa9898" stroke-width="3.20"/>
<path d="M1530.57 735.00H1547.57M1539.07 726.50V743.50" stroke="#fa9898" stroke-width="3.20"/>
<path d="M1539.19 719.40H1556.19M1547.69 710.90V727.90" stroke="#fa9898" stroke-width="3.20"/>
<path d="M1547.81 729.40H1564.81M1556.31 720.90V737.90" stroke="#fa9898" stroke-width="3.20"/>
<path d="M1556.43 717.60H1573.43M1564.93 709.10V726.10" stroke="#fa9898" stroke-width="3.20"/>
<path d="M1565.05 720.30H1582.05M1573.55 711.80V728.80" stroke="#fa9898" stroke-width="3.20"/>
<path d="M1573.67 705.80H1590.67M1582.17 697.30V714.30" stroke="#fa9898" stroke-width="3.20"/>
<path d="M1582.29 702.60H1599.29M1590.79 694.10V711.10" stroke="#fa9898" stroke-width="3.20"/>
<path d="M1590.91 712.00H1607.91M1599.41 703.50V720.50" stroke="#fa9898" stroke-width="3.20"/>
<path d="M1599.53 689.00H1616.53M1608.03 680.50V697.50" stroke="#fa9898" stroke-width="3.20"/>
<path d="M1608.15 702.50H1625.15M1616.65 694.00V711.00" stroke="#fa9898" stroke-width="3.20"/>
<path d="M1616.76 694.00H1633.76M1625.26 685.50V702.50" stroke="#fa9898" stroke-width="3.20"/>
<path d="M1625.38 703.50H1642.38M1633.88 695.00V712.00" stroke="#fa9898" stroke-width="3.20"/>
<path d="M1634.00 695.00H1651.00M1642.50 686.50V703.50" stroke="#fa9898" stroke-width="3.20"/>
<path d="M1642.62 674.50H1659.62M1651.12 666.00V683.00" stroke="#fa9898" stroke-width="3.20"/>
<path d="M1651.24 689.00H1668.24M1659.74 680.50V697.50" stroke="#fa9898" stroke-width="3.20"/>
<path d="M1659.86 646.40H1676.86M1668.36 637.90V654.90" stroke="#fa9898" stroke-width="3.20"/>
<path d="M1668.48 649.00H1685.48M1676.98 640.50V657.50" stroke="#fa9898" stroke-width="3.20"/>
<path d="M1677.10 651.00H1694.10M1685.60 642.50V659.50" stroke="#fa9898" stroke-width="3.20"/>
<path d="M1685.72 646.80H1702.72M1694.22 638.30V655.30" stroke="#fa9898" stroke-width="3.20"/>
<path d="M1694.34 685.50H1711.34M1702.84 677.00V694.00" stroke="#fa9898" stroke-width="3.20"/>
<path d="M1702.95 665.30H1719.95M1711.45 656.80V673.80" stroke="#fa9898" stroke-width="3.20"/>
<path d="M1711.57 677.00H1728.57M1720.07 668.50V685.50" stroke="#fa9898" stroke-width="3.20"/>
<path d="M1720.19 678.20H1737.19M1728.69 669.70V686.70" stroke="#fa9898" stroke-width="3.20"/>
<path d="M1728.81 643.10H1745.81M1737.31 634.60V651.60" stroke="#fa9898" stroke-width="3.20"/>
<path d="M1317.70 815.80L1329.50 827.60M1317.70 827.60L1329.50 815.80" stroke="#8f8fd6" stroke-width="3.20"/>
<path d="M1326.32 773.70L1338.12 785.50M1326.32 785.50L1338.12 773.70" stroke="#8f8fd6" stroke-width="3.20"/>
<path d="M1334.94 723.50L1346.74 735.30M1334.94 735.30L1346.74 723.50" stroke="#8f8fd6" stroke-width="3.20"/>
<path d="M1343.56 718.40L1355.36 730.20M1343.56 730.20L1355.36 718.40" stroke="#8f8fd6" stroke-width="3.20"/>
<path d="M1352.18 721.50L1363.98 733.30M1352.18 733.30L1363.98 721.50" stroke="#8f8fd6" stroke-width="3.20"/>
<path d="M1360.79 707.10L1372.60 718.90M1360.79 718.90L1372.60 707.10" stroke="#8f8fd6" stroke-width="3.20"/>
<path d="M1369.41 689.10L1381.21 700.90M1369.41 700.90L1381.21 689.10" stroke="#8f8fd6" stroke-width="3.20"/>
<path d="M1378.03 709.10L1389.83 720.90M1378.03 720.90L1389.83 709.10" stroke="#8f8fd6" stroke-width="3.20"/>
<path d="M1386.65 720.10L1398.45 731.90M1386.65 731.90L1398.45 720.10" stroke="#8f8fd6" stroke-width="3.20"/>
<path d="M1395.27 705.60L1407.07 717.40M1395.27 717.40L1407.07 705.60" stroke="#8f8fd6" stroke-width="3.20"/>
<path d="M1403.89 707.60L1415.69 719.40M1403.89 719.40L1415.69 707.60" stroke="#8f8fd6" stroke-width="3.20"/>
<path d="M1412.51 747.60L1424.31 759.40M1412.51 759.40L1424.31 747.60" stroke="#8f8fd6" stroke-width="3.20"/>
<path d="M1421.13 750.40L1432.93 762.20M1421.13 762.20L1432.93 750.40" stroke="#8f8fd6" stroke-width="3.20"/>
<path d="M1429.75 740.80L1441.55 752.60M1429.75 752.60L1441.55 740.80" stroke="#8f8fd6" stroke-width="3.20"/>
<path d="M1438.37 779.80L1450.17 791.60M1438.37 791.60L1450.17 779.80" stroke="#8f8fd6" stroke-width="3.20"/>
<path d="M1446.98 799.50L1458.79 811.30M1446.98 811.30L1458.79 799.50" stroke="#8f8fd6" stroke-width="3.20"/>
<path d="M1455.60 772.00L1467.40 783.80M1455.60 783.80L1467.40 772.00" stroke="#8f8fd6" stroke-width="3.20"/>
<path d="M1464.22 727.10L1476.02 738.90M1464.22 738.90L1476.02 727.10" stroke="#8f8fd6" stroke-width="3.20"/>
<path d="M1472.84 713.60L1484.64 725.40M1472.84 725.40L1484.64 713.60" stroke="#8f8fd6" stroke-width="3.20"/>
<path d="M1481.46 716.60L1493.26 728.40M1481.46 728.40L1493.26 716.60" stroke="#8f8fd6" stroke-width="3.20"/>
<path d="M1490.08 702.20L1501.88 714.00M1490.08 714.00L1501.88 702.20" stroke="#8f8fd6" stroke-width="3.20"/>
<path d="M1498.70 669.20L1510.50 681.00M1498.70 681.00L1510.50 669.20" stroke="#8f8fd6" stroke-width="3.20"/>
<path d="M1507.32 671.80L1519.12 683.60M1507.32 683.60L1519.12 671.80" stroke="#8f8fd6" stroke-width="3.20"/>
<path d="M1515.94 683.10L1527.74 694.90M1515.94 694.90L1527.74 683.10" stroke="#8f8fd6" stroke-width="3.20"/>
<path d="M1524.56 697.40L1536.36 709.20M1524.56 709.20L1536.36 697.40" stroke="#8f8fd6" stroke-width="3.20"/>
<path d="M1533.17 676.30L1544.97 688.10M1533.17 688.10L1544.97 676.30" stroke="#8f8fd6" stroke-width="3.20"/>
<path d="M1541.79 658.60L1553.59 670.40M1541.79 670.40L1553.59 658.60" stroke="#8f8fd6" stroke-width="3.20"/>
<path d="M1550.41 686.60L1562.21 698.40M1550.41 698.40L1562.21 686.60" stroke="#8f8fd6" stroke-width="3.20"/>
<path d="M1559.03 673.90L1570.83 685.70M1559.03 685.70L1570.83 673.90" stroke="#8f8fd6" stroke-width="3.20"/>
<path d="M1567.65 693.40L1579.45 705.20M1567.65 705.20L1579.45 693.40" stroke="#8f8fd6" stroke-width="3.20"/>
<path d="M1576.27 683.10L1588.07 694.90M1576.27 694.90L1588.07 683.10" stroke="#8f8fd6" stroke-width="3.20"/>
<path d="M1584.89 707.90L1596.69 719.70M1584.89 719.70L1596.69 707.90" stroke="#8f8fd6" stroke-width="3.20"/>
<path d="M1593.51 726.50L1605.31 738.30M1593.51 738.30L1605.31 726.50" stroke="#8f8fd6" stroke-width="3.20"/>
<path d="M1602.13 719.90L1613.93 731.70M1602.13 731.70L1613.93 719.90" stroke="#8f8fd6" stroke-width="3.20"/>
<path d="M1610.75 729.00L1622.55 740.80M1610.75 740.80L1622.55 729.00" stroke="#8f8fd6" stroke-width="3.20"/>
<path d="M1619.36 702.90L1631.16 714.70M1619.36 714.70L1631.16 702.90" stroke="#8f8fd6" stroke-width="3.20"/>
<path d="M1627.98 683.10L1639.78 694.90M1627.98 694.90L1639.78 683.10" stroke="#8f8fd6" stroke-width="3.20"/>
<path d="M1636.60 659.10L1648.40 670.90M1636.60 670.90L1648.40 659.10" stroke="#8f8fd6" stroke-width="3.20"/>
<path d="M1645.22 650.10L1657.02 661.90M1645.22 661.90L1657.02 650.10" stroke="#8f8fd6" stroke-width="3.20"/>
<path d="M1653.84 645.10L1665.64 656.90M1653.84 656.90L1665.64 645.10" stroke="#8f8fd6" stroke-width="3.20"/>
<path d="M1662.46 637.60L1674.26 649.40M1662.46 649.40L1674.26 637.60" stroke="#8f8fd6" stroke-width="3.20"/>
<path d="M1671.08 630.90L1682.88 642.70M1671.08 642.70L1682.88 630.90" stroke="#8f8fd6" stroke-width="3.20"/>
<path d="M1679.70 667.30L1691.50 679.10M1679.70 679.10L1691.50 667.30" stroke="#8f8fd6" stroke-width="3.20"/>
<path d="M1688.32 673.80L1700.12 685.60M1688.32 685.60L1700.12 673.80" stroke="#8f8fd6" stroke-width="3.20"/>
<path d="M1696.94 678.10L1708.74 689.90M1696.94 689.90L1708.74 678.10" stroke="#8f8fd6" stroke-width="3.20"/>
<path d="M1705.55 691.70L1717.36 703.50M1705.55 703.50L1717.36 691.70" stroke="#8f8fd6" stroke-width="3.20"/>
<path d="M1714.17 696.70L1725.97 708.50M1714.17 708.50L1725.97 696.70" stroke="#8f8fd6" stroke-width="3.20"/>
<path d="M1722.79 718.10L1734.59 729.90M1722.79 729.90L1734.59 718.10" stroke="#8f8fd6" stroke-width="3.20"/>
<path d="M1731.41 699.30L1743.21 711.10M1731.41 711.10L1743.21 699.30" stroke="#8f8fd6" stroke-width="3.20"/>
</g>
<path d="M1322.80 772.52 L1331.43 765.43 L1340.07 758.58 L1348.70 752.06 L1357.34 745.95 L1365.97 740.32 L1374.61 735.27 L1383.24 730.88 L1391.88 727.16 L1400.51 724.02 L1409.14 721.35 L1417.78 719.06 L1426.41 717.05 L1435.05 715.27 L1443.68 713.65 L1452.32 712.13 L1460.95 710.65 L1469.59 709.17 L1478.23 707.62 L1486.86 705.93 L1495.50 704.07 L1504.13 702.00 L1512.77 699.85 L1521.40 697.78 L1530.04 695.92 L1538.67 694.42 L1547.31 693.43 L1555.94 692.91 L1564.58 692.71 L1573.21 692.72 L1581.85 692.80 L1590.48 692.82 L1599.12 692.64 L1607.75 692.14 L1616.38 691.28 L1625.02 690.17 L1633.65 688.93 L1642.29 687.69 L1650.92 686.57 L1659.56 685.64 L1668.20 684.92 L1676.83 684.45 L1685.47 684.24 L1694.10 684.32 L1702.74 684.70 L1711.37 685.42 L1720.01 686.48 L1728.64 687.92 L1737.28 689.76" stroke="#e0330f" stroke-width="5.00" fill="none" stroke-linejoin="round" stroke-linecap="butt"/>
<path d="M1322.80 833.56 L1331.43 819.15 L1340.07 800.05 L1348.70 778.38 L1357.34 756.25 L1365.97 735.76 L1374.61 719.03 L1383.24 708.12 L1391.88 703.86 L1400.51 705.33 L1409.14 711.48 L1417.78 721.25 L1426.41 733.17 L1435.05 744.73 L1443.68 753.31 L1452.32 757.43 L1460.95 756.74 L1469.59 750.96 L1478.23 739.83 L1486.86 724.09 L1495.50 706.30 L1504.13 689.06 L1512.77 674.71 L1521.40 665.47 L1530.04 662.84 L1538.67 666.37 L1547.31 675.22 L1555.94 687.64 L1564.58 701.58 L1573.21 714.98 L1581.85 725.78 L1590.48 731.94 L1599.12 732.35 L1607.75 727.42 L1616.38 717.67 L1625.02 703.99 L1633.65 688.52 L1642.29 673.61 L1650.92 661.17 L1659.56 652.71 L1668.20 649.76 L1676.83 653.12 L1685.47 661.92 L1694.10 674.87 L1702.74 689.93 L1711.37 704.75 L1720.01 716.99 L1728.64 724.33 L1737.28 724.42" stroke="#2a4ca8" stroke-width="5.00" fill="none" stroke-linejoin="round" stroke-linecap="butt"/>
<rect x="319.10" y="55.90" width="243.20" height="73.40" fill="#fff" stroke="#303030" stroke-width="1.3"/>
<g fill="none"><path d="M345.50 75.70H356.10M350.80 70.40V81.00" stroke="#fa9898" stroke-width="3.40"/><path d="M347.20 106.60L354.40 113.80M347.20 113.80L354.40 106.60" stroke="#8f8fd6" stroke-width="3.40"/></g>
<text x="382.80" y="86.00" font-size="25.80" text-anchor="start">Choice data</text>
<text x="382.80" y="119.80" font-size="25.80" text-anchor="start">No-choice data</text>
<rect x="768.60" y="56.30" width="381.90" height="72.80" fill="#fff" stroke="#303030" stroke-width="1.3"/>
<path d="M774 75.5H827.3" stroke="#2a4ca8" stroke-width="4.8"/>
<path d="M774 109.9H827.3" stroke="#df4b0a" stroke-width="4.8"/>
<text x="831.40" y="86.20" font-size="25.80" text-anchor="start">No-choice model prediction</text>
<text x="831.40" y="118.90" font-size="25.80" text-anchor="start">Choice model prediction</text>
<text x="398.60" y="336.00" font-size="25.20">R<tspan font-size="19.00" dy="-12.6">2</tspan><tspan dy="12.6"> = 0.11</tspan></text>
<text x="398.00" y="375.70" font-size="25.20">Adj R<tspan font-size="19.00" dy="-12.6">2</tspan><tspan dy="12.6"> = -0.53</tspan></text>
<text x="345.00" y="844.60" font-size="25.20">R<tspan font-size="19.00" dy="-12.6">2</tspan><tspan dy="12.6"> = 0.23</tspan></text>
<text x="344.40" y="880.70" font-size="25.20">Adj R<tspan font-size="19.00" dy="-12.6">2</tspan><tspan dy="12.6"> = 0.18</tspan></text>
<text x="987.00" y="336.00" font-size="25.20">R<tspan font-size="19.00" dy="-12.6">2</tspan><tspan dy="12.6"> = 0.31</tspan></text>
<text x="986.40" y="375.70" font-size="25.20">Adj R<tspan font-size="19.00" dy="-12.6">2</tspan><tspan dy="12.6"> = -0.19</tspan></text>
<text x="933.40" y="844.60" font-size="25.20">R<tspan font-size="19.00" dy="-12.6">2</tspan><tspan dy="12.6"> = 0.15</tspan></text>
<text x="932.80" y="880.70" font-size="25.20">Adj R<tspan font-size="19.00" dy="-12.6">2</tspan><tspan dy="12.6"> = 0.11</tspan></text>
<text x="1575.40" y="336.00" font-size="25.20">R<tspan font-size="19.00" dy="-12.6">2</tspan><tspan dy="12.6"> = 0.62</tspan></text>
<text x="1574.80" y="375.70" font-size="25.20">Adj R<tspan font-size="19.00" dy="-12.6">2</tspan><tspan dy="12.6"> = -0.13</tspan></text>
<text x="1521.80" y="844.60" font-size="25.20">R<tspan font-size="19.00" dy="-12.6">2</tspan><tspan dy="12.6"> = 0.54</tspan></text>
<text x="1521.20" y="880.70" font-size="25.20">Adj R<tspan font-size="19.00" dy="-12.6">2</tspan><tspan dy="12.6"> = 0.49</tspan></text>
</svg>
</body></html>
